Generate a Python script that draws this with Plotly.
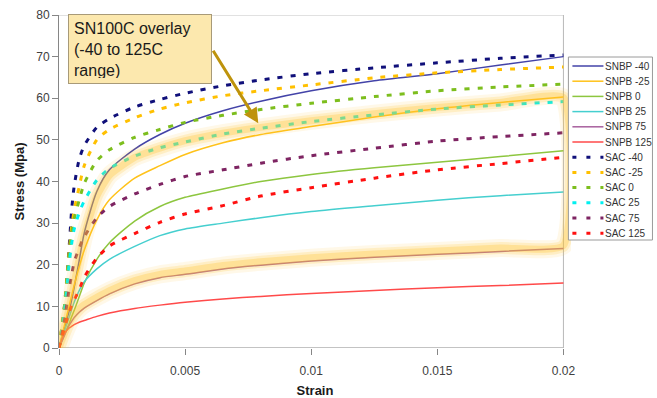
import plotly.graph_objects as go

# Shared strain grid (mm/mm)
strain = [0, 0.0002, 0.0004, 0.0005, 0.0006, 0.0008, 0.001, 0.0015, 0.002, 0.003,
          0.004, 0.005, 0.0065, 0.008, 0.01, 0.0125, 0.015, 0.0175, 0.02]

# Stress (MPa) for tin-lead solder at each temperature
snbp_m40 = [0, 4.5, 8.8, 11.5, 14.5, 21.0, 27.6, 37.6, 42.8, 47.8, 51.3, 54.0, 57.0, 59.3, 61.8, 64.2, 65.9, 68.0, 70.0]
snpb_m25 = [0, 5.0, 10.0, 12.5, 15.0, 19.5, 23.5, 30.8, 35.6, 40.8, 43.8, 46.5, 49.3, 51.3, 53.2, 55.5, 57.5, 59.0, 60.3]
snpb_0 = [0, 3.0, 5.8, 7.5, 9.0, 12.3, 15.6, 21.3, 25.3, 30.5, 34.0, 36.2, 38.2, 40.0, 41.7, 43.3, 44.6, 46.0, 47.4]
snpb_25 = [0, 3.7, 7.4, 9.2, 11.0, 13.8, 15.9, 19.0, 21.3, 24.4, 27.0, 28.6, 30.0, 31.3, 32.8, 34.2, 35.5, 36.6, 37.5]
snpb_75 = [0, 2.8, 5.4, 6.4, 7.3, 8.6, 9.6, 11.4, 13.0, 15.4, 16.9, 17.7, 19.0, 19.9, 20.9, 21.8, 22.5, 23.2, 23.9]
snpb_125 = [0, 3.4, 4.8, 5.2, 5.6, 6.2, 6.6, 7.6, 8.4, 9.5, 10.3, 11.0, 11.8, 12.4, 13.1, 13.8, 14.5, 15.0, 15.6]

# Stress (MPa) for SAC solder at each temperature
sac_m40 = [0, 9.0, 24.0, 33.0, 38.8, 45.3, 48.6, 53.0, 55.1, 57.9, 59.7, 61.2, 63.0, 64.4, 65.9, 67.3, 68.5, 69.6, 70.4]
sac_m25 = [0, 9.0, 23.0, 29.0, 33.0, 38.7, 43.8, 50.0, 52.5, 55.3, 57.4, 58.9, 60.6, 61.8, 63.2, 64.9, 66.1, 66.9, 67.5]
sac_0 = [0, 9.0, 22.0, 27.5, 31.0, 35.5, 39.5, 45.0, 47.6, 50.6, 52.5, 54.2, 55.9, 57.3, 58.8, 60.4, 61.8, 62.7, 63.4]
sac_25 = [0, 8.0, 20.0, 25.0, 28.5, 32.5, 35.3, 40.3, 43.1, 46.1, 48.1, 49.5, 51.4, 52.8, 54.4, 56.0, 57.4, 58.4, 59.2]
sac_75 = [0, 6.0, 14.0, 17.5, 20.5, 24.0, 26.7, 31.3, 34.0, 37.0, 39.3, 41.2, 42.8, 44.4, 46.2, 48.0, 49.7, 50.8, 51.7]
sac_125 = [0, 4.5, 8.5, 10.2, 11.5, 14.0, 17.0, 21.6, 24.5, 27.5, 30.2, 32.2, 34.2, 36.5, 38.5, 40.8, 42.8, 44.3, 45.8]

# SN100C envelope (-40 to 125C): lower edge, right edge, upper edge
overlay_x = [0, 0.0002, 0.0004, 0.0005, 0.0006, 0.0008, 0.001, 0.0015, 0.002, 0.003,
             0.004, 0.005, 0.0065, 0.008, 0.01, 0.0125, 0.015, 0.0175, 0.02,
             0.02, 0.0175, 0.015, 0.0125, 0.01, 0.008, 0.0065, 0.005, 0.004,
             0.003, 0.002, 0.0015, 0.001, 0.0008, 0.0006, 0.0005, 0.0004, 0.0002, 0]
overlay_y = [0, 3.2, 6.0, 7.1, 8.0, 9.4, 10.4, 12.2, 13.8, 16.2,
             17.7, 18.5, 19.8, 20.7, 21.7, 22.6, 23.3, 24.0, 24.6,
             60.2, 59.0, 57.8, 56.3, 54.6, 53.0, 51.6, 49.8, 48.0,
             45.8, 41.5, 36.5, 27.0, 21.5, 15.5, 12.5, 9.5, 4.8, 0]

x_ticks = [0, 0.005, 0.01, 0.015, 0.02]
y_ticks = [0, 10, 20, 30, 40, 50, 60, 70, 80]

series = [
    ("SNBP -40", snbp_m40, "#4343A8", "solid"),
    ("SNPB -25", snpb_m25, "#FFC21A", "solid"),
    ("SNPB 0", snpb_0, "#8DC63F", "solid"),
    ("SNPB 25", snpb_25, "#45CFCF", "solid"),
    ("SNPB 75", snpb_75, "#A8609E", "solid"),
    ("SNPB 125", snpb_125, "#FF4A4A", "solid"),
    ("SAC -40", sac_m40, "#10107A", "dot"),
    ("SAC -25", sac_m25, "#FFC000", "dot"),
    ("SAC 0", sac_0, "#7DBE1E", "dot"),
    ("SAC 25", sac_25, "#00F0F0", "dot"),
    ("SAC 75", sac_75, "#7E2462", "dot"),
    ("SAC 125", sac_125, "#FF1010", "dot"),
]

DOT = "5px,8px"
FONT = "Arial, Liberation Sans, sans-serif"

fig = go.Figure()
for name, ys, color, kind in series:
    if kind == "solid":
        line = dict(color=color, width=1.5, shape="spline", smoothing=0.7)
    else:
        line = dict(color=color, width=3, dash=DOT, shape="spline", smoothing=0.7)
    fig.add_trace(go.Scatter(x=strain, y=ys, mode="lines", name=name, line=line,
                             showlegend=False, hoverinfo="skip"))

# soft glow for the SN100C envelope, built from stacked translucent strokes
for w, a in [(18, 0.11), (12, 0.19), (7, 0.30)]:
    fig.add_trace(go.Scatter(x=overlay_x, y=overlay_y, mode="lines",
                             line=dict(color=f"rgba(255,194,45,{a})", width=w,
                                       shape="spline", smoothing=0.5),
                             showlegend=False, hoverinfo="skip"))

# plot-area geometry in pixels, used to place the legend and callout
W, H = 657, 398
ML, MR, MT, MB = 59, 86.4, 15, 50
PW, PH = W - ML - MR, H - MT - MB


def px_x(p):
    return (p - ML) / PW


def px_y(p):
    return (H - MB - p) / PH


shapes = [
    dict(type="line", xref="x", yref="y", x0=0, x1=0.02, y0=0, y1=0,
         line=dict(color="#868686", width=1), layer="below"),
    dict(type="line", xref="x", yref="y", x0=0, x1=0.02, y0=80, y1=80,
         line=dict(color="#C4C4C4", width=1), layer="below"),
    dict(type="line", xref="x", yref="y", x0=0.02, x1=0.02, y0=0, y1=80,
         line=dict(color="#B8B8B8", width=1), layer="below"),
    # legend frame
    dict(type="rect", xref="paper", yref="paper", x0=px_x(568), x1=px_x(652),
         y0=px_y(240), y1=px_y(57), line=dict(color="#9A9A9A", width=1),
         fillcolor="white", layer="above"),
]

annotations = []
row0, dy = 66, 15.2
for i, (name, ys, color, kind) in enumerate(series):
    yy = px_y(row0 + dy * i)
    if kind == "solid":
        ln = dict(color=color, width=1.5)
    else:
        ln = dict(color=color, width=3, dash="4px,10px")
    shapes.append(dict(type="line", xref="paper", yref="paper", x0=px_x(572), x1=px_x(603),
                       y0=yy, y1=yy, line=ln, layer="above"))
    annotations.append(dict(xref="paper", yref="paper", x=px_x(603), y=yy, text=name,
                            showarrow=False, xanchor="left", yanchor="middle",
                            font=dict(family=FONT, size=10, color="#333333")))

# callout box
annotations.append(dict(
    xref="paper", yref="paper", x=px_x(68), y=px_y(14), xanchor="left", yanchor="top",
    text="SN100C overlay<br>(-40 to 125C<br>range)", showarrow=False, align="left",
    font=dict(family=FONT, size=16, color="#1A1A1A"),
    bgcolor="#FCE8AE", bordercolor="#A89A78", borderwidth=1, borderpad=5,
    width=132, height=58, valign="top"))

# arrow from the callout to the upper edge of the envelope
annotations.append(dict(
    xref="x", yref="y", x=0.0079, y=54.0, ax=-46, ay=-74, text="",
    showarrow=True, arrowhead=2, arrowsize=1, arrowwidth=3, arrowcolor="#BE930C",
    standoff=0))

fig.update_layout(
    width=W, height=H,
    margin=dict(l=ML, r=MR, t=MT, b=MB, autoexpand=False),
    paper_bgcolor="white", plot_bgcolor="white",
    font=dict(family=FONT, size=12, color="#404040"),
    shapes=shapes, annotations=annotations,
    showlegend=False,
)
fig.update_xaxes(
    range=[0, 0.0203], tickvals=x_ticks, ticks="outside", ticklen=6, tickcolor="#868686",
    showgrid=False, zeroline=False, showline=False, ticklabelstandoff=6, automargin=False,
    tickfont=dict(size=12, color="#404040"),
    title=dict(text="<b>Strain</b>", font=dict(size=13, color="#1A1A1A"), standoff=8),
)
fig.update_yaxes(
    range=[0, 80], tickvals=y_ticks, ticks="outside", ticklen=6, tickcolor="#868686",
    showgrid=False, zeroline=False, showline=True, linecolor="#868686", linewidth=1,
    automargin=False,
    tickfont=dict(size=12, color="#404040"),
    title=dict(text="<b>Stress (Mpa)</b>", font=dict(size=13, color="#1A1A1A"), standoff=8),
)

fig.write_html("out.html")
